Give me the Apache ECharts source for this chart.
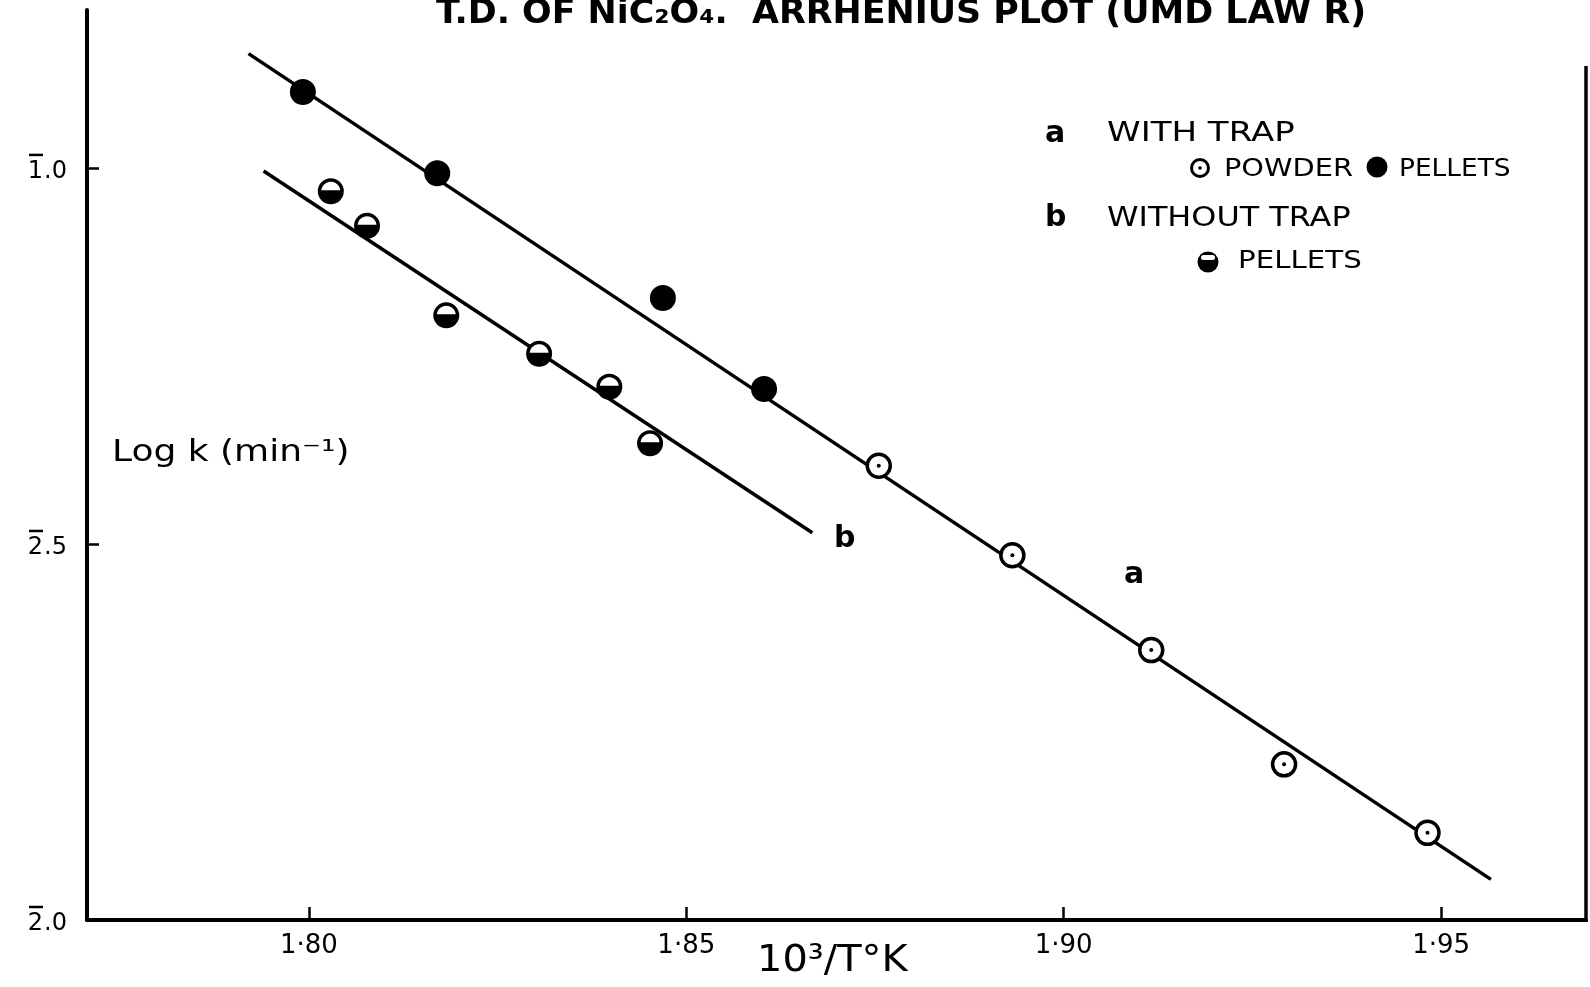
<!DOCTYPE html>
<html><head><meta charset="utf-8">
<script src="https://cdn.jsdelivr.net/npm/echarts@6/dist/echarts.min.js"></script>
<style>html,body{margin:0;padding:0;background:#fff}#c{width:1590px;height:987px}</style>
</head><body><div id="c"></div>
<script>
// ---- data ----
const xTicks = [1.80, 1.85, 1.90, 1.95];
const xTickLabels = ['1·80', '1·85', '1·90', '1·95'];
const yTicks = [-2.0, -1.5, -1.0];
// log labels in bar notation: barred characteristic + mantissa
const yTickCharacteristic = ['2', '2', '1'];
const yTickMantissa = ['.0', '.5', '.0'];
const pelletsWithTrap = [[1.7992, -0.899], [1.8170, -1.007], [1.8469, -1.173], [1.8603, -1.294]];
const powderWithTrap = [[1.8755, -1.396], [1.8932, -1.515], [1.9116, -1.641], [1.9292, -1.793], [1.9482, -1.884]];
const pelletsWithoutTrap = [[1.8029, -1.031], [1.8077, -1.077], [1.8182, -1.196], [1.8305, -1.247], [1.8398, -1.291], [1.8452, -1.366]];
const lineA = [[1.7920, -0.848], [1.9566, -1.946]];
const lineB = [[1.7940, -1.004], [1.8667, -1.485]];

const FONT = 'DejaVu Sans';
const chart = echarts.init(document.getElementById('c'), null, {renderer: 'canvas'});

function idxOf(list, v) {
  for (let i = 0; i < list.length; i++) if (Math.abs(list[i] - v) < 1e-6) return i;
  return -1;
}

function halfMarker(params, api) {
  const p = api.coord([api.value(0), api.value(1)]);
  const R = 13, ri = 9.5, h = 1;
  const a0 = Math.asin(h / ri);
  const pts = [];
  for (let i = 0; i <= 24; i++) {
    const t = Math.PI + a0 + (Math.PI - 2 * a0) * i / 24;
    pts.push([p[0] + ri * Math.cos(t), p[1] + ri * Math.sin(t)]);
  }
  return {
    type: 'group',
    children: [
      {type: 'circle', shape: {cx: p[0], cy: p[1], r: R}, style: {fill: '#000'}},
      {type: 'polygon', shape: {points: pts}, style: {fill: '#fff'}}
    ]
  };
}

function txt(x, y, text, font, sx, extra) {
  return Object.assign({
    type: 'text', x: x, y: y, scaleX: sx || 1, originX: 0, originY: 0,
    style: {text: text, fill: '#000', font: font, textVerticalAlign: 'middle'}
  }, extra || {});
}

const option = {
  backgroundColor: '#fff',
  animation: false,
  grid: {left: 87, right: 4, top: 10, bottom: 67, containLabel: false},
  xAxis: {
    type: 'value', min: 1.7706, max: 1.9692,
    axisLine: {show: true, onZero: false, lineStyle: {color: '#000', width: 4}},
    axisTick: {show: true, inside: true, length: 13, customValues: xTicks, lineStyle: {color: '#000', width: 2.5}},
    axisLabel: {customValues: xTicks, margin: 13, color: '#000', fontFamily: FONT, fontSize: 26,
      formatter: function (v) { const i = idxOf(xTicks, v); return i < 0 ? '' : xTickLabels[i]; }},
    splitLine: {show: false}
  },
  yAxis: {
    type: 'value', min: -2.0, max: -0.79,
    axisLine: {show: true, onZero: false, lineStyle: {color: '#000', width: 4}},
    axisTick: {show: true, inside: true, length: 12, customValues: yTicks, lineStyle: {color: '#000', width: 2.5}},
    axisLabel: {customValues: yTicks, margin: 20, color: '#000', fontFamily: FONT, fontSize: 24,
      formatter: function (v) {
        const i = idxOf(yTicks, v);
        if (i < 0) return '';
        return '{bar| }{gap| }\n{d|' + yTickCharacteristic[i] + '}{m|' + yTickMantissa[i] + '}';
      },
      rich: {
        bar: {width: 14, height: 2.5, lineHeight: 8, fontSize: 2, backgroundColor: '#000'},
        gap: {width: 24, lineHeight: 8, fontSize: 2},
        d: {width: 15, lineHeight: 26, fontSize: 24, fontFamily: FONT, color: '#000'},
        m: {width: 24, lineHeight: 26, fontSize: 24, fontFamily: FONT, color: '#000'}
      }
    },
    splitLine: {show: false}
  },
  series: [
    {name: 'line a', type: 'line', data: lineA, symbol: 'none', z: 2,
      lineStyle: {color: '#000', width: 3.5}},
    {name: 'line b', type: 'line', data: lineB, symbol: 'none', z: 2,
      lineStyle: {color: '#000', width: 3.5}},
    {name: 'a with trap, pellets', type: 'scatter', data: pelletsWithTrap, symbol: 'circle', symbolSize: 26, z: 5,
      itemStyle: {color: '#000', opacity: 1}},
    {name: 'a with trap, powder', type: 'scatter', data: powderWithTrap, symbol: 'circle', symbolSize: 23, z: 5,
      itemStyle: {color: '#fff', borderColor: '#000', borderWidth: 3.5, opacity: 1}},
    {name: 'powder centre', type: 'scatter', data: powderWithTrap, symbol: 'circle', symbolSize: 4, z: 6,
      itemStyle: {color: '#000', opacity: 1}, silent: true},
    {name: 'b without trap, pellets', type: 'custom', data: pelletsWithoutTrap, renderItem: halfMarker, z: 5,
      encode: {x: 0, y: 1}, clip: false}
  ],
  graphic: [
    {type: 'line', shape: {x1: 1586, y1: 66, x2: 1586, y2: 922}, style: {stroke: '#000', lineWidth: 3.5}},
    txt(436, 14, 'T.D. OF NiC\u2082O\u2084.  ARRHENIUS PLOT (UMD LAW R)', 'bold 34px "' + FONT + '"', 1.025),
    txt(112, 453, 'Log k (min\u207B\u00B9)', '30px "' + FONT + '"', 1.2),
    txt(757, 961, '10\u00B3/T\u00B0K', '38px "' + FONT + '"', 1.05),
    txt(834, 539, 'b', 'bold 30px "' + FONT + '"'),
    txt(1124, 575, 'a', 'bold 30px "' + FONT + '"'),
    // legend
    txt(1045, 134, 'a', 'bold 30px "' + FONT + '"'),
    txt(1107, 134, 'WITH TRAP', '27px "' + FONT + '"', 1.26),
    {type: 'circle', shape: {cx: 1200, cy: 168, r: 8.5}, style: {fill: '#fff', stroke: '#000', lineWidth: 3}},
    {type: 'circle', shape: {cx: 1200, cy: 168, r: 1.8}, style: {fill: '#000'}},
    txt(1224, 170, 'POWDER', '24px "' + FONT + '"', 1.2),
    {type: 'circle', shape: {cx: 1377, cy: 167, r: 10.5}, style: {fill: '#000'}},
    txt(1399, 170, 'PELLETS', '24px "' + FONT + '"', 1.1),
    txt(1045, 218, 'b', 'bold 30px "' + FONT + '"'),
    txt(1107, 219, 'WITHOUT TRAP', '27px "' + FONT + '"', 1.18),
    {type: 'circle', shape: {cx: 1208, cy: 262, r: 10.5}, style: {fill: '#000'}},
    {type: 'rect', shape: {x: 1201, y: 255, width: 14, height: 5, r: 2.5}, style: {fill: '#fff'}},
    txt(1238, 262, 'PELLETS', '24px "' + FONT + '"', 1.22)
  ]
};
chart.setOption(option);
</script>
</body></html>
